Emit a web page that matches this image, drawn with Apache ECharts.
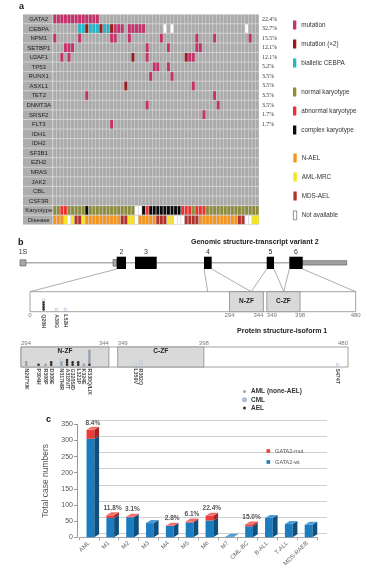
<!DOCTYPE html>
<html><head><meta charset="utf-8">
<script src="https://cdn.jsdelivr.net/npm/echarts@6/dist/echarts.min.js"></script>
<style>html,body{margin:0;padding:0;background:#fff}#c{width:367px;height:575px}</style>
</head><body><div id="c"></div>
<script>
// ================= DATA =================
// ---- Panel a ----
const genes = ['GATA2','CEBPA','NPM1','SETBP1','U2AF1','TP53','RUNX1','ASXL1','TET2','DNMT3A','SRSF2','FLT3','IDH1','IDH2','SF3B1','EZH2','NRAS','JAK2','CBL','CSF3R'];
const annotRows = ['Karyotype','Disease'];
const freqLabels = ['22.4%','32.7%','15.5%','12.1%','12.1%','5.2%','3.5%','3.5%','3.5%','3.5%','1.7%','1.7%'];
const nCases = 58;
// column indices (0-based) of mutated cases per gene
const mutGATA2 = [0,1,2,3,4,5,6,7,8,9,10,11,12];
const mutCEBPA = [17,18,19,21,22,23,24,25];
const dblCEBPA = [9,13,16];
const biCEBPA = [7,8,10,11,12,14,15];
const naCEBPA = [31,33,54];
const mutNPM1 = [0,7,16,17,21,30,40,45,55];
const mutSETBP1 = [3,4,5,26,32,40,41];
const mutU2AF1 = [2,4,26,38,39];
const dblU2AF1 = [22,37];
const mutTP53 = [28,29,32];
const mutRUNX1 = [27,33];
const mutASXL1 = [39];
const dblASXL1 = [20];
const mutTET2 = [9,45];
const mutDNMT3A = [26,46];
const mutSRSF2 = [42];
const mutFLT3 = [16];
// karyotype: N normal, A abnormal, C complex, X not available
const karyotype = ['N','N','A','A','N','N','N','N','N','C','N','N','N','N','N','N','N','N','N','N','N','N','N','X','X','C','A','C','C','C','C','C','C','C','C','C','A','A','A','N','A','A','A','N','N','N','N','N','N','N','N','N','N','N','N','N','N','N'];
// disease: O N-AEL, Y AML-MRC, M MDS-AEL, X not available
const disease = ['O','O','O','Y','X','Y','M','M','Y','O','O','O','O','O','O','O','O','O','O','M','M','Y','Y','X','O','O','O','O','O','M','M','M','Y','Y','X','X','X','M','M','M','M','O','O','O','O','O','O','O','O','O','O','O','M','M','X','X','Y','Y'];

// ---- Panel b ----
const exonNames = ['1S','2','3','4','5','6'];
const exonStart = [0, 96.7, 115, 184, 246.7, 269.3];   // schematic genomic units
const exonEnd   = [6, 106, 136.7, 191.7, 254, 282.7];
const utr5 = [93, 96.7];
const utr3 = [282.7, 326.7];
// exon boundary (genomic) -> protein residue
const linkGenomic = [96.7, 184, 191.7, 246.7, 254, 269.3, 282.7];
const linkResidue = [0, 262, 326, 326, 374, 374, 480];
const domainNames = ['N-ZF','C-ZF'];
const domainStart = [294, 349];
const domainEnd = [344, 398];
const topTicks = [0, 294, 344, 349, 398, 480];
const lowTicks = [294, 344, 349, 398, 480];
// mutations: stacks bottom->top, A = AML (none-AEL), C = CML, E = AEL
const upperPos = [20, 39, 52];
const upperLabel = ['Q20H','A39G','L52H'];
const upperStack = ['EEEEC','C','C'];
const lowerPos = [297, 304, 308, 309, 317, 318, 320, 321, 324, 330, 359, 362, 474];
const lowerLabel = ['N297Y/K','P304H','R308P','D309E','N317H/R','A318V/T','G320S/D','L321P','K324E','R330Q/L/X','L359V','R362Q','S474T'];
const lowerStack = ['AA','E','A','EE','AAC','EEE','EE','EE','A','EAAAAAA','C','CC','C'];

// ---- Panel c ----
const barCats = ['AML','M1','M2','M3','M4','M5','M6','M7','CML-BC','B-ALL','T-ALL','MDS-RAEB'];
const barWt  = [305, 60, 62, 44, 35, 46, 52, 2, 34, 60, 41, 39];
const barMut = [28, 8, 2, 0, 1, 3, 15, 0, 6, 0, 0, 0];
const barPct = ['8.4%','11.8%','3.1%','','2.8%','6.1%','22.4%','','15.0%','','',''];

// ================= BUILD =================
const FONT = "'Liberation Sans', Arial, sans-serif";
const rowNames = genes.concat(annotRows);
const cols = Array.from({length: nCases}, (_, i) => String(i + 1));
const C = {
  mut:'#c8306c', dbl:'#9b1b1b', bi:'#22b7c8', na:'#ffffff', cell:'#aaaaaa', line:'#d2d2d2',
  N:'#8c8c3b', A:'#f0302e', Cx:'#0b0b0b', O:'#f7941e', Y:'#f5e51b', M:'#b4302a'
};
const geneMut = [mutGATA2, mutCEBPA, mutNPM1, mutSETBP1, mutU2AF1, mutTP53, mutRUNX1, mutASXL1, mutTET2, mutDNMT3A, mutSRSF2, mutFLT3];
const cellsBg = [], cellsMut = [], cellsDbl = [], cellsBi = [], cellsNa = [];
for (let r = 0; r < genes.length; r++) for (let c = 0; c < nCases; c++) cellsBg.push([c, r]);
geneMut.forEach((arr, r) => arr.forEach(c => cellsMut.push([c, r])));
dblCEBPA.forEach(c => cellsDbl.push([c, 1]));
dblU2AF1.forEach(c => cellsDbl.push([c, 4]));
dblASXL1.forEach(c => cellsDbl.push([c, 7]));
biCEBPA.forEach(c => cellsBi.push([c, 1]));
naCEBPA.forEach(c => cellsNa.push([c, 1]));
const kRow = genes.length, dRow = genes.length + 1;
const cellsK = {N:[], A:[], C:[]}, cellsD = {O:[], Y:[], M:[]};
karyotype.forEach((k, c) => { if (k === 'X') cellsNa.push([c, kRow]); else cellsK[k].push([c, kRow]); });
disease.forEach((d, c) => { if (d === 'X') cellsNa.push([c, dRow]); else cellsD[d].push([c, dRow]); });

function cellSeries(name, color, data) {
  return {
    name, type:'custom', xAxisIndex:0, yAxisIndex:0, data, silent:true,
    itemStyle:{color},
    renderItem(params, api) {
      const p = api.coord([api.value(0), api.value(1)]);
      const s = api.size([1, 1]);
      return {type:'rect', shape:{x:p[0]-s[0]/2+0.35, y:p[1]-s[1]/2+0.5, width:s[0]-0.7, height:s[1]-1}, style:{fill:color}};
    }
  };
}

// panel b helpers
function dots(posArr, stacks, code) {
  const out = [];
  posArr.forEach((p, k) => { for (let i = 0; i < stacks[k].length; i++) if (stacks[k][i] === code) out.push([p, 1.0 + i]); });
  return out;
}
const dotStyle = {
  A:{name:'AML (none-AEL)', itemStyle:{color:'#7f8ea3'}},
  C:{name:'CML', itemStyle:{color:'#ffffff', borderColor:'#8ea6c8', borderWidth:0.7}},
  E:{name:'AEL', itemStyle:{color:'#000000'}}
};
function dotSeries(gi, posArr, stacks, tag) {
  return ['A','C','E'].map(code => ({
    id: tag + code, type:'scatter', name:dotStyle[code].name, xAxisIndex:gi, yAxisIndex:gi,
    symbol:'circle', symbolSize:2.6, itemStyle:dotStyle[code].itemStyle, silent:true,
    data: dots(posArr, stacks, code)
  }));
}
function proteinSeries(gi, lo, hi, labelTop) {
  return {
    type:'custom', xAxisIndex:gi, yAxisIndex:gi, silent:true,
    data:[[lo, hi, -1]].concat(domainStart.map((s, i) => [s, domainEnd[i], i])),
    renderItem(params, api) {
      const a = api.coord([api.value(0), 0]), b = api.coord([api.value(1), 8.7]);
      const k = api.value(2);
      const ch = [{type:'rect', shape:{x:a[0], y:b[1], width:b[0]-a[0], height:a[1]-b[1]},
        style:{fill: k < 0 ? '#ffffff' : '#d9d9d9', stroke:'#8a8a8a', lineWidth:0.8}}];
      if (k >= 0) ch.push({type:'text', style:{text:domainNames[k], x:(a[0]+b[0])/2, y: labelTop ? b[1]+0.5 : (a[1]+b[1])/2,
        align:'center', verticalAlign: labelTop ? 'top' : 'middle', font:'bold 6.5px ' + FONT, fill:'#222'}});
      return {type:'group', children:ch};
    }
  };
}
function tickSeries(gi, ticks, yv, vAlign, aligns) {
  return {
    type:'scatter', xAxisIndex:gi, yAxisIndex:gi, symbolSize:0, silent:true, clip:false,
    data: ticks.map((t, i) => ({value:[t, yv], label:{align:aligns[i]}})),
    label:{show:true, position:'inside', formatter:p => String(p.value[0]), verticalAlign:vAlign,
      fontSize:6, fontFamily:FONT, color:'#555'}
  };
}
function mutLabelSeries(id, gi, posArr, labels, yv) {
  return {
    id, type:'scatter', xAxisIndex:gi, yAxisIndex:gi, symbolSize:0, silent:true, clip:false,
    data: posArr.map((p, i) => ({value:[p, yv], name:labels[i]})),
    label:{show:true, position:'inside', formatter:p => p.name, rotate:-90, align:'left', verticalAlign:'middle',
      fontSize:5.3, fontWeight:'bold', fontFamily:FONT, color:'#222'}
  };
}

// panel c 3D bars
const BLUE = {front:'#1b7cc0', side:'#0f4f7b', top:'#4f9dd6'};
const RED = {front:'#ec3d3a', side:'#a82320', top:'#f4716b'};
function bar3d(isMut) {
  const col = isMut ? RED : BLUE;
  return function(params, api) {
    const i = params.dataIndex;
    const base = api.value(1), top = api.value(2);
    if (!(top > base)) return null;
    const p0 = api.coord([api.value(0), base]), p1 = api.coord([api.value(0), top]);
    const bw = api.size([1, 0])[0] * 0.39;
    const x0 = p0[0] - bw/2 + 1.5, x1 = x0 + bw, dx = 4.8, dy = 3;
    const ch = [
      {type:'rect', shape:{x:x0, y:p1[1], width:bw, height:p0[1]-p1[1]}, style:{fill:col.front}},
      {type:'polygon', shape:{points:[[x1,p0[1]],[x1+dx,p0[1]-dy],[x1+dx,p1[1]-dy],[x1,p1[1]]]}, style:{fill:col.side}}
    ];
    const isTop = isMut || barMut[i] === 0;
    if (isTop) {
      ch.push({type:'polygon', shape:{points:[[x0,p1[1]],[x0+dx,p1[1]-dy],[x1+dx,p1[1]-dy],[x1,p1[1]]]}, style:{fill:col.top}});
      if (barPct[i]) ch.push({type:'text', style:{text:barPct[i], x:(x0+x1)/2 + dx/2, y:p1[1]-dy-0.5, align:'center', verticalAlign:'bottom',
        font:'bold 6.5px ' + FONT, fill:'#555'}});
    }
    return {type:'group', children:ch};
  };
}

const hidden = {show:false};
const option = {
  animation:false,
  backgroundColor:'#ffffff',
  textStyle:{fontFamily:FONT},
  grid:[
    {left:53, width:206, top:14.2, height:210.5, show:true, backgroundColor:C.line, borderWidth:0},
    {left:23, width:29.5, top:14.2, height:210.5, show:true, backgroundColor:C.line, borderWidth:0},
    {left:20, width:330, top:256.7, height:12.3},
    {left:30, width:325.7, top:291.7, height:20},
    {left:21, width:327, top:347, height:20},
    {left:79, width:238, top:424.3, height:113},
    {left:89, width:238, top:420.3, height:113}
  ],
  xAxis:[
    {type:'category', gridIndex:0, data:cols, show:false},
    {type:'category', gridIndex:1, data:[''], show:false},
    {type:'value', gridIndex:2, min:0, max:330, show:false},
    {type:'value', gridIndex:3, min:0, max:480, show:false},
    {type:'value', gridIndex:4, min:294, max:480, show:false},
    {type:'category', gridIndex:5, data:barCats,
      axisLine:{lineStyle:{color:'#a8a8a8'}}, axisTick:{show:true, length:3, lineStyle:{color:'#a8a8a8'}},
      axisLabel:{rotate:45, fontSize:6, color:'#666', margin:5, interval:0}},
    {type:'category', gridIndex:6, data:barCats, show:false}
  ],
  yAxis:[
    {type:'category', gridIndex:0, data:rowNames, inverse:true, position:'right',
      axisLine:hidden, axisTick:hidden, splitLine:hidden,
      axisLabel:{formatter:(v, i) => freqLabels[i] || '', fontSize:5.8, fontFamily:"'Liberation Serif', serif", color:'#333', margin:3, interval:0}},
    {type:'category', gridIndex:1, data:rowNames, inverse:true, show:false},
    {type:'value', gridIndex:2, min:0, max:1, show:false},
    {type:'value', gridIndex:3, min:0, max:8.7, show:false},
    {type:'value', gridIndex:4, min:0, max:8.7, show:false},
    {type:'value', gridIndex:5, min:0, max:350, interval:50, offset:2,
      name:'Total case numbers', nameLocation:'middle', nameGap:22, nameRotate:90,
      nameTextStyle:{fontSize:8.5, color:'#555', fontFamily:FONT},
      axisLine:{show:true, lineStyle:{color:'#999'}}, axisTick:{show:true, length:3, lineStyle:{color:'#999'}},
      axisLabel:{fontSize:7, color:'#555', margin:4}, splitLine:hidden},
    {type:'value', gridIndex:6, min:0, max:350, interval:50, axisLabel:hidden, axisLine:hidden, axisTick:hidden,
      splitLine:{show:true, lineStyle:{color:'#cfcfcf', width:1}}}
  ],
  legend:[
    {left:288, top:15.5, orient:'vertical', itemWidth:3.3, itemHeight:9, itemGap:10, selectedMode:false, icon:'rect',
      textStyle:{fontSize:6.3, color:'#333', fontFamily:FONT},
      data:[{name:'mutation', itemStyle:{color:C.mut}}, {name:'mutation (×2)', itemStyle:{color:C.dbl}}, {name:'biallelic CEBPA', itemStyle:{color:C.bi}}]},
    {left:288, top:82.5, orient:'vertical', itemWidth:3.3, itemHeight:9, itemGap:10, selectedMode:false, icon:'rect',
      textStyle:{fontSize:6.3, color:'#333', fontFamily:FONT},
      data:[{name:'normal karyotype', itemStyle:{color:C.N}}, {name:'abnormal karyotype', itemStyle:{color:C.A}}, {name:'complex karyotype', itemStyle:{color:C.Cx}}]},
    {left:288, top:148.5, orient:'vertical', itemWidth:3.3, itemHeight:9, itemGap:10, selectedMode:false, icon:'rect',
      textStyle:{fontSize:6.3, color:'#333', fontFamily:FONT},
      data:[{name:'N-AEL', itemStyle:{color:C.O}}, {name:'AML-MRC', itemStyle:{color:C.Y}}, {name:'MDS-AEL', itemStyle:{color:C.M}},
        {name:'Not available', itemStyle:{color:'#ffffff', borderColor:'#777', borderWidth:0.8}}]},
    {left:237, top:382.5, orient:'vertical', itemWidth:3, itemHeight:3, itemGap:0.3, selectedMode:false, icon:'circle',
      textStyle:{fontSize:6.5, fontWeight:'bold', color:'#333', fontFamily:FONT, lineHeight:8},
      data:['AML (none-AEL)','CML','AEL']},
    {left:261.5, top:443, orient:'vertical', itemWidth:3.6, itemHeight:3.6, itemGap:5, selectedMode:false, icon:'rect',
      textStyle:{fontSize:5.5, color:'#555', fontFamily:FONT},
      data:[{name:'GATA2-mut', itemStyle:{color:RED.front}}, {name:'GATA2-wt', itemStyle:{color:BLUE.front}}]}
  ],
  graphic:[
    {type:'text', id:'ta', left:19, top:2, style:{text:'a', font:'bold 9px ' + FONT, fill:'#111'}},
    {type:'text', id:'tb', left:18, top:238, style:{text:'b', font:'bold 9px ' + FONT, fill:'#111'}},
    {type:'text', id:'tc', left:46, top:415, style:{text:'c', font:'bold 9px ' + FONT, fill:'#111'}},
    {type:'text', id:'tg', left:191, top:238.5, style:{text:'Genomic structure-transcript variant 2', font:'bold 7px ' + FONT, fill:'#222'}},
    {type:'text', id:'tp', left:237, top:327.5, style:{text:'Protein structure-isoform 1', font:'bold 7px ' + FONT, fill:'#222'}}
  ],
  series:[
    // ---- panel a ----
    cellSeries('wt', C.cell, cellsBg),
    {type:'custom', xAxisIndex:1, yAxisIndex:1, silent:true, data:rowNames.map((n, i) => [0, i]),
      renderItem(params, api) {
        const p = api.coord([0, api.value(1)]), s = api.size([1, 1]);
        return {type:'group', children:[
          {type:'rect', shape:{x:p[0]-s[0]/2, y:p[1]-s[1]/2+0.5, width:s[0], height:s[1]-1}, style:{fill:'#adadad'}},
          {type:'text', style:{text:rowNames[params.dataIndex], x:p[0]+1, y:p[1]+0.3, align:'center', verticalAlign:'middle',
            font:'6px ' + FONT, fill:'#1e1e1e'}}]};
      }},
    cellSeries('mutation', C.mut, cellsMut),
    cellSeries('mutation (×2)', C.dbl, cellsDbl),
    cellSeries('biallelic CEBPA', C.bi, cellsBi),
    cellSeries('Not available', C.na, cellsNa),
    cellSeries('normal karyotype', C.N, cellsK.N),
    cellSeries('abnormal karyotype', C.A, cellsK.A),
    cellSeries('complex karyotype', C.Cx, cellsK.C),
    cellSeries('N-AEL', C.O, cellsD.O),
    cellSeries('AML-MRC', C.Y, cellsD.Y),
    cellSeries('MDS-AEL', C.M, cellsD.M),
    // ---- panel b: gene structure ----
    {type:'custom', xAxisIndex:2, yAxisIndex:2, silent:true, data:[[exonEnd[0], exonStart[5]]],
      renderItem(params, api) {
        const a = api.coord([api.value(0), 0.5]), b = api.coord([api.value(1), 0.5]);
        return {type:'line', shape:{x1:a[0], y1:a[1], x2:b[0], y2:b[1]}, style:{stroke:'#777', lineWidth:0.9}};
      }},
    {type:'custom', xAxisIndex:2, yAxisIndex:2, silent:true,
      data:[[utr5[0], utr5[1], 2], [utr3[0], utr3[1], 3]].concat(exonStart.map((s, i) => [s, exonEnd[i], i === 0 ? 0 : 1])),
      renderItem(params, api) {
        const k = api.value(2);
        const half = [0.25, 0.5, 0.27, 0.18][k];
        const a = api.coord([api.value(0), 0.5 - half]), b = api.coord([api.value(1), 0.5 + half]);
        const ch = [{type:'rect', shape:{x:a[0], y:b[1], width:b[0]-a[0], height:a[1]-b[1]},
          style:{fill:[ '#a8a8a8', '#000000', '#a8a8a8', '#a0a0a0'][k], stroke: k === 1 ? null : '#555', lineWidth:0.6}}];
        const ei = params.dataIndex - 2;
        if (ei >= 0) {
          const top = api.coord([api.value(0), 1]);
          ch.push({type:'text', style:{text:exonNames[ei], x:(a[0]+b[0])/2, y:top[1]-1, align:'center', verticalAlign:'bottom',
            font:'7px ' + FONT, fill:'#333'}});
        }
        return {type:'group', children:ch};
      }},
    // ---- panel b: proteins ----
    proteinSeries(3, 0, 480, false),
    proteinSeries(4, 294, 480, true),
    tickSeries(3, topTicks, -0.35, 'top', ['center','center','right','left','center','center']),
    tickSeries(4, lowTicks, 9.0, 'bottom', ['left','right','left','center','right']),
    mutLabelSeries('upLab', 3, upperPos, upperLabel, -1.1),
    mutLabelSeries('lowLab', 4, lowerPos, lowerLabel, -0.6),
    ...dotSeries(3, upperPos, upperStack, 'up'),
    ...dotSeries(4, lowerPos, lowerStack, 'low'),
    // ---- panel c ----
    {type:'custom', name:'GATA2-wt', xAxisIndex:5, yAxisIndex:5, silent:true, itemStyle:{color:BLUE.front},
      data:barCats.map((c, i) => [i, 0, barWt[i]]), renderItem:bar3d(false)},
    {type:'custom', name:'GATA2-mut', xAxisIndex:5, yAxisIndex:5, silent:true, itemStyle:{color:RED.front},
      data:barCats.map((c, i) => [i, barWt[i], barWt[i] + barMut[i]]), renderItem:bar3d(true)}
  ]
};

const chart = echarts.init(document.getElementById('c'), null, {renderer:'canvas', width:367, height:575});
chart.setOption(option);

// connectors between exons and protein (through the library's coordinate conversion)
const links = [];
linkGenomic.forEach((g, i) => {
  const a = chart.convertToPixel({gridIndex:2}, [g, 0]);
  const b = chart.convertToPixel({gridIndex:3}, [linkResidue[i], 8.7]);
  links.push({type:'line', id:'lk' + i, silent:true, z:1,
    shape:{x1:a[0], y1:a[1], x2:b[0], y2:b[1]}, style:{stroke:'#8a8a8a', lineWidth:0.7}});
});

// spread crowded lollipops so that their labels do not overlap (layout in pixel space, mapped back through the axis)
function spread(gridIndex, posArr, minGap) {
  let last = -1e9;
  return posArr.map(p => {
    const x = chart.convertToPixel({gridIndex}, [p, 0])[0];
    const nx = Math.max(x, last + minGap); last = nx;
    return chart.convertFromPixel({gridIndex}, [nx, 0])[0];
  });
}
const lowDisp = spread(4, lowerPos, 5.6);
const upd = [{id:'lowLab', data: lowDisp.map((p, i) => ({value:[p, -0.6], name:lowerLabel[i]}))}];
['A','C','E'].forEach(code => upd.push({id:'low' + code, data: dots(lowDisp, lowerStack, code)}));
chart.setOption({graphic:links, series:upd});
</script>
</body></html>
